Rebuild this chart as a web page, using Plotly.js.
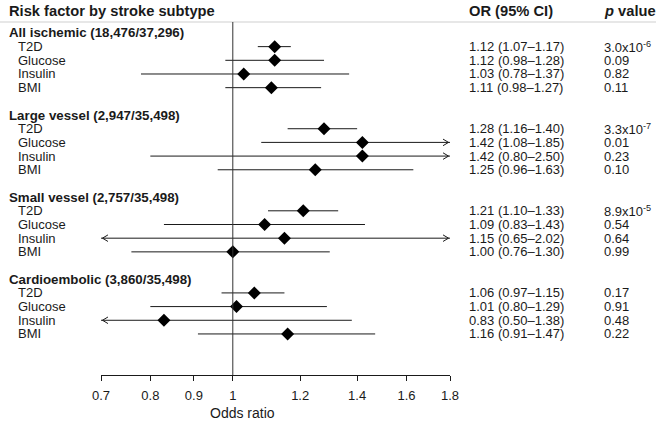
<!DOCTYPE html>
<html>
<head>
<meta charset="utf-8">
<script src="https://cdn.plot.ly/plotly-3.0.1.min.js"></script>
<style>html,body{margin:0;padding:0;background:#fff;}#chart{width:660px;height:424px;}</style>
</head>
<body>
<div id="chart"></div>
<script>
// ---- data ----
const groups = ['All ischemic (18,476/37,296)', 'Large vessel (2,947/35,498)', 'Small vessel (2,757/35,498)', 'Cardioembolic (3,860/35,498)'];
const factors = ['T2D', 'Glucose', 'Insulin', 'BMI'];
const oddsRatio = [1.12, 1.12, 1.03, 1.11,  1.28, 1.42, 1.42, 1.25,  1.21, 1.09, 1.15, 1.00,  1.06, 1.01, 0.83, 1.16];
const ciLow     = [1.07, 0.98, 0.78, 0.98,  1.16, 1.08, 0.80, 0.96,  1.10, 0.83, 0.65, 0.76,  0.97, 0.80, 0.50, 0.91];
const ciHigh    = [1.17, 1.28, 1.37, 1.27,  1.40, 1.85, 2.50, 1.63,  1.33, 1.43, 2.02, 1.30,  1.15, 1.29, 1.38, 1.47];
const pValue    = ['3.0x10<sup>-6</sup>', '0.09', '0.82', '0.11',
                   '3.3x10<sup>-7</sup>', '0.01', '0.23', '0.10',
                   '8.9x10<sup>-5</sup>', '0.54', '0.64', '0.99',
                   '0.17', '0.91', '0.48', '0.22'];
const tickVals  = [0.7, 0.8, 0.9, 1, 1.2, 1.4, 1.6, 1.8];
const tickText  = ['0.7', '0.8', '0.9', '1', '1.2', '1.4', '1.6', '1.8'];

// ---- build ----
const FONT = '"Liberation Sans", Arial, "DejaVu Sans", sans-serif';
const INK = '#1a1a1a';
const xMin = 0.7, xMax = 1.8;
const perGroup = factors.length + 2;
const rowY = [], headerY = [];
groups.forEach((g, gi) => {
  headerY.push(gi * perGroup);
  factors.forEach((f, fi) => rowY.push(gi * perGroup + 1 + fi));
});
const yMax = rowY[rowY.length - 1] + 3;

const traces = [];
// CI lines
oddsRatio.forEach((v, i) => {
  traces.push({x: [ciLow[i], ciHigh[i]], y: [rowY[i], rowY[i]], mode: 'lines', type: 'scatter',
    line: {color: INK, width: 1}, hoverinfo: 'skip', showlegend: false});
});
// arrow heads where CI runs past the axis range
const tipR = xMax / 1.004, tipL = xMin * 1.004, ah = 1.015, hh = 0.24;
oddsRatio.forEach((v, i) => {
  if (ciHigh[i] > xMax) traces.push({x: [tipR / ah, tipR, tipR / ah], y: [rowY[i] - hh, rowY[i], rowY[i] + hh],
    mode: 'lines', type: 'scatter', line: {color: INK, width: 1}, hoverinfo: 'skip', showlegend: false});
  if (ciLow[i] < xMin) traces.push({x: [tipL * ah, tipL, tipL * ah], y: [rowY[i] - hh, rowY[i], rowY[i] + hh],
    mode: 'lines', type: 'scatter', line: {color: INK, width: 1}, hoverinfo: 'skip', showlegend: false});
});
// point estimates
traces.push({x: oddsRatio, y: rowY, mode: 'markers', type: 'scatter',
  marker: {symbol: 'diamond', size: 10, color: '#000'}, showlegend: false});

// layout helpers
const L = 101, R = 450, T = 22, B = 375;
const px2paperX = p => (p - L) / (R - L);
const px2paperY = p => (B - p) / (B - T);

const ann = [];
const base = {showarrow: false, font: {family: FONT, size: 13, color: INK}};
ann.push(Object.assign({}, base, {xref: 'paper', yref: 'paper', x: px2paperX(7), y: px2paperY(11), xanchor: 'left', yanchor: 'middle',
  text: '<b>Risk factor by stroke subtype</b>', font: {family: FONT, size: 14.7, color: INK}}));
ann.push(Object.assign({}, base, {xref: 'paper', yref: 'paper', x: px2paperX(467), y: px2paperY(11), xanchor: 'left', yanchor: 'middle',
  text: '<b>OR (95% CI)</b>', font: {family: FONT, size: 14.7, color: INK}}));
ann.push(Object.assign({}, base, {xref: 'paper', yref: 'paper', x: px2paperX(602), y: px2paperY(11), xanchor: 'left', yanchor: 'middle',
  text: '<b><i>p</i> value</b>', font: {family: FONT, size: 14.7, color: INK}}));
groups.forEach((g, gi) => {
  ann.push(Object.assign({}, base, {xref: 'paper', yref: 'y', x: px2paperX(7), y: headerY[gi], xanchor: 'left', yanchor: 'middle',
    text: '<b>' + g + '</b>', font: {family: FONT, size: 13.3, color: INK}}));
});
oddsRatio.forEach((v, i) => {
  const f = factors[i % factors.length];
  ann.push(Object.assign({}, base, {xref: 'paper', yref: 'y', x: px2paperX(16), y: rowY[i], xanchor: 'left', yanchor: 'middle', text: f}));
  ann.push(Object.assign({}, base, {xref: 'paper', yref: 'y', x: px2paperX(467), y: rowY[i], xanchor: 'left', yanchor: 'middle',
    text: v.toFixed(2) + ' (' + ciLow[i].toFixed(2) + '\u2013' + ciHigh[i].toFixed(2) + ')'}));
  ann.push(Object.assign({}, base, {xref: 'paper', yref: 'y', x: px2paperX(602), y: rowY[i], xanchor: 'left', yanchor: 'middle', text: pValue[i]}));
});
ann.push(Object.assign({}, base, {xref: 'paper', yref: 'paper', x: px2paperX(242), y: px2paperY(413), xanchor: 'center', yanchor: 'middle',
  text: 'Odds ratio', font: {family: FONT, size: 14, color: INK}}));

const layout = {
  width: 660, height: 424,
  margin: {l: L, r: 660 - R, t: T, b: 424 - B, pad: 0},
  paper_bgcolor: '#fff', plot_bgcolor: '#fff',
  font: {family: FONT, color: INK},
  showlegend: false,
  xaxis: {type: 'log', range: [Math.log10(xMin), Math.log10(xMax)], tickvals: tickVals, ticktext: tickText,
    ticks: 'outside', ticklen: 5, tickwidth: 1, tickcolor: INK, showline: true, linecolor: INK, linewidth: 1,
    showgrid: false, zeroline: false, tickfont: {family: FONT, size: 13, color: INK}, ticklabelstandoff: 3, fixedrange: true},
  yaxis: {range: [yMax, -0.8], visible: false, showgrid: false, zeroline: false, fixedrange: true},
  shapes: [
    {type: 'line', xref: 'paper', yref: 'paper', x0: px2paperX(0), x1: px2paperX(656), y0: 1, y1: 1, line: {color: '#cfcfcf', width: 1}},
    {type: 'line', xref: 'x', yref: 'paper', x0: 1, x1: 1, y0: 0, y1: 1, line: {color: '#333', width: 1}}
  ],
  annotations: ann
};

Plotly.newPlot('chart', traces, layout, {staticPlot: true, displayModeBar: false});
</script>
</body>
</html>
